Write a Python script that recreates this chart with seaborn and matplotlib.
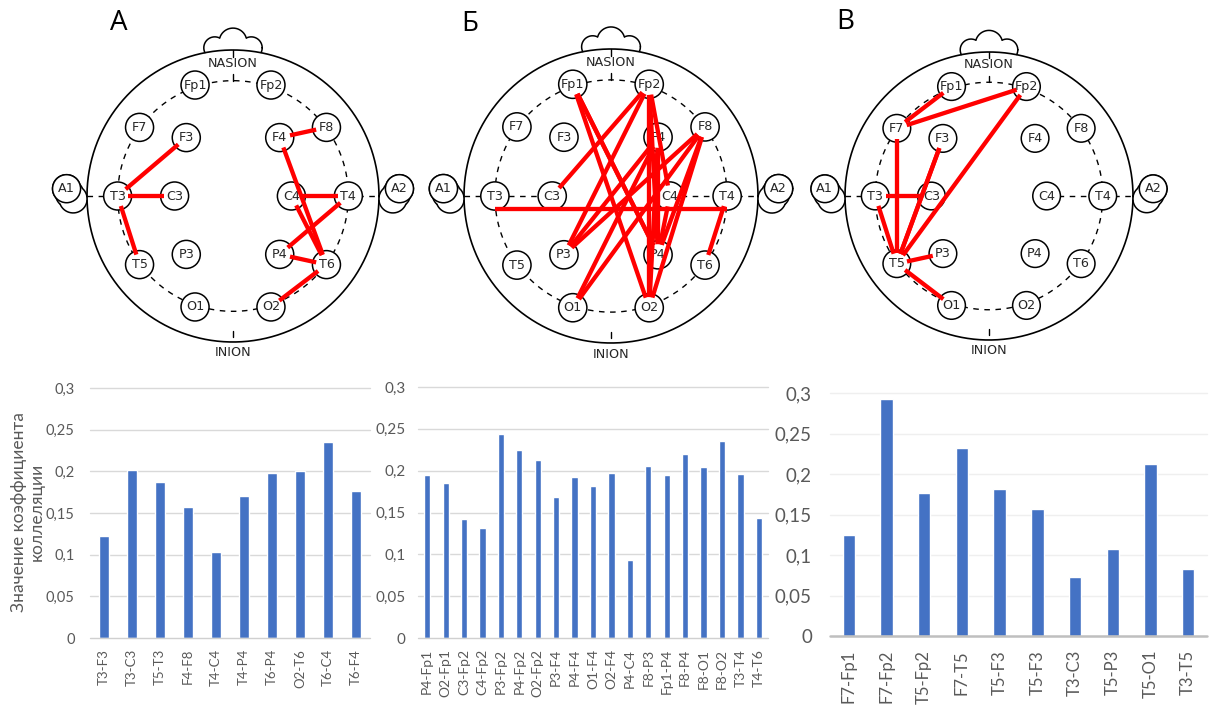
import numpy as np
import pandas as pd
import matplotlib
matplotlib.use("Agg")
import matplotlib.pyplot as plt
from matplotlib.patches import Circle
import seaborn as sns

# ---------------- data: electrode pairs and correlation values ----------------
pairs_a = ["T3-F3", "T3-C3", "T5-T3", "F4-F8", "T4-C4", "T4-P4", "T6-P4", "O2-T6", "T6-C4", "T6-F4"]
vals_a = [0.123, 0.202, 0.187, 0.157, 0.103, 0.170, 0.198, 0.201, 0.235, 0.177]

pairs_b = ["P4-Fp1", "O2-Fp1", "C3-Fp2", "C4-Fp2", "P3-Fp2", "P4-Fp2", "O2-Fp2", "P3-F4",
           "P4-F4", "O1-F4", "O2-F4", "P4-C4", "F8-P3", "Fp1-P4", "F8-P4", "F8-O1", "F8-O2",
           "T3-T4", "T4-T6"]
vals_b = [0.195, 0.185, 0.142, 0.132, 0.244, 0.225, 0.213, 0.169, 0.193, 0.182, 0.197,
          0.093, 0.205, 0.195, 0.220, 0.204, 0.235, 0.196, 0.143]

pairs_c = ["F7-Fp1", "F7-Fp2", "T5-Fp2", "F7-T5", "T5-F3", "T5-F3", "T3-C3", "T5-P3", "T5-O1", "T3-T5"]
vals_c = [0.125, 0.292, 0.177, 0.232, 0.182, 0.157, 0.073, 0.107, 0.212, 0.083]

y_ticks = [0, 0.05, 0.1, 0.15, 0.2, 0.25, 0.3]
y_tick_labels = ["0", "0,05", "0,1", "0,15", "0,2", "0,25", "0,3"]
panel_letters = ["А", "Б", "В"]
y_title = "Значение коэффициента\nколлеляции"

# 10-20 electrode layout on a unit head (x to the right, y towards the inion)
montage = {
    "Fp1": (-0.26, -0.76), "Fp2": (0.26, -0.76),
    "F7": (-0.64, -0.47), "F3": (-0.32, -0.40), "F4": (0.32, -0.40), "F8": (0.64, -0.47),
    "T3": (-0.79, 0.0), "C3": (-0.40, 0.0), "C4": (0.40, 0.0), "T4": (0.79, 0.0),
    "T5": (-0.64, 0.47), "P3": (-0.32, 0.40), "P4": (0.32, 0.40), "T6": (0.64, 0.47),
    "O1": (-0.26, 0.76), "O2": (0.26, 0.76),
    "A1": (-1.14, -0.05), "A2": (1.14, -0.05),
}

# ---------------- styling ----------------
W, H = 1214, 708
BLUE = "#4472C4"
TICK_C = "#595959"
LINK_C = "#ff0000"
ELEC_R = 0.096

sns.set_theme(style="white")
plt.rcParams["font.family"] = ["Lato", "DejaVu Sans"]

fig = plt.figure(figsize=(W / 100, H / 100), dpi=100)
fig.patch.set_facecolor("white")

# canvas in pixel units for the head diagrams
canvas = fig.add_axes([0, 0, 1, 1])
canvas.set_xlim(0, W)
canvas.set_ylim(H, 0)
canvas.axis("off")


def outline(ax, centers, cx, cy, R, head_clip=True, lw=1.1):
    """Outer contour of a group of circles, kept outside the head circle."""
    for i, (u0, v0, r0) in enumerate(centers):
        t = np.linspace(0, 2 * np.pi, 500)
        u = u0 + r0 * np.cos(t)
        v = v0 + r0 * np.sin(t)
        keep = np.ones_like(t, dtype=bool)
        if head_clip:
            keep &= np.hypot(u, v) > 1.0
        for j, (u1, v1, r1) in enumerate(centers):
            if j != i:
                keep &= np.hypot(u - u1, v - v1) > r1
        u = np.where(keep, u, np.nan)
        ax.plot(cx + u * R, cy + v * R, color="black", lw=lw, zorder=2)


def draw_head(ax, cx, cy, R, links, shifted=None):
    shifted = shifted or {}
    t = np.linspace(0, 2 * np.pi, 600)
    ax.plot(cx + R * np.cos(t), cy + R * np.sin(t), color="black", lw=1.2, zorder=2)
    ax.plot(cx + 0.79 * R * np.cos(t), cy + 0.79 * R * np.sin(t), color="black",
            lw=1.0, ls=(0, (4, 4)), zorder=1)
    # midline ticks and the dashed coronal segments
    ax.plot([cx, cx], [cy - R, cy - 0.955 * R], color="black", lw=1.0, zorder=2)
    ax.plot([cx, cx], [cy - 0.835 * R, cy - 0.79 * R], color="black", lw=1.0, zorder=2)
    ax.plot([cx, cx], [cy + 0.925 * R, cy + 0.965 * R], color="black", lw=1.0, zorder=2)
    for a, b in [(-1.0, -0.40), (0.40, 1.0)]:
        ax.plot([cx + a * R, cx + b * R], [cy, cy], color="black", lw=1.0,
                ls=(0, (4, 4)), zorder=1)
    # nose
    outline(ax, [(-0.125, -1.015, 0.075), (0.0, -1.055, 0.095), (0.125, -1.015, 0.075)],
            cx, cy, R)
    # ears behind the reference electrodes
    for s in (-1, 1):
        outline(ax, [(s * 1.14, -0.05, ELEC_R), (s * 1.12, -0.015, ELEC_R),
                     (s * 1.095, 0.02, ELEC_R)], cx, cy, R)
    ax.text(cx, cy - 0.91 * R, "NASION", ha="center", va="center", fontsize=9.2,
            family="DejaVu Sans", zorder=4)
    ax.text(cx, cy + 1.075 * R, "INION", ha="center", va="center", fontsize=9.2,
            family="DejaVu Sans", zorder=4)
    # electrodes
    for name, (u, v) in montage.items():
        ax.add_patch(Circle((cx + u * R, cy + v * R), ELEC_R * R, facecolor="white",
                            edgecolor="black", lw=1.1, zorder=3))
        ax.text(cx + u * R, cy + v * R, name, ha="center", va="center", fontsize=9.2,
                family="DejaVu Sans", zorder=4)
    # connections
    for pair in links:
        e1, e2 = pair.split("-")
        p1 = np.array(montage[e1], dtype=float)
        p2 = np.array(montage[e2], dtype=float)
        if pair in shifted:
            off = np.array(shifted[pair])
            p1 = p1 + off
            p2 = p2 + off
        else:
            d = (p2 - p1) / np.hypot(*(p2 - p1))
            p1 = p1 + d * ELEC_R * 0.75
            p2 = p2 - d * ELEC_R * 0.75
        ax.plot([cx + p1[0] * R, cx + p2[0] * R], [cy + p1[1] * R, cy + p2[1] * R],
                color=LINK_C, lw=3.1, solid_capstyle="butt", zorder=5)


heads = [
    (233, 196, 146, pairs_a, None),
    (611, 196, 147, pairs_b, {"T3-T4": (0.0, 0.09)}),
    (989, 196, 144, pairs_c, None),
]
for cx, cy, R, links, shifted in heads:
    draw_head(canvas, cx, cy, R, links, shifted)

for letter, (lx, ly) in zip(panel_letters, [(119, 23), (470, 24), (845, 22)]):
    canvas.text(lx, ly, letter, ha="center", va="center", fontsize=20, color="black",
                family=["Open Sans", "DejaVu Sans"])


# ---------------- bar charts ----------------
def bar_panel(box, pairs, vals, xfs, yfs, ypad, xpad, grid_c, base_c, base_lw, bw):
    x0, y0, x1, y1 = box
    ax = fig.add_axes([x0 / W, 1 - y1 / H, (x1 - x0) / W, (y1 - y0) / H])
    df = pd.DataFrame({"pos": np.arange(len(vals)), "r": vals})
    sns.barplot(data=df, x="pos", y="r", color=BLUE, saturation=1, width=bw,
                ax=ax, zorder=3)
    ax.set_xlim(-0.5, len(vals) - 0.5)
    ax.set_ylim(0, 0.3)
    ax.set_yticks(y_ticks)
    ax.set_yticklabels(y_tick_labels)
    ax.set_xticks(np.arange(len(pairs)))
    ax.set_xticklabels(pairs, rotation=90)
    ax.set_xlabel("")
    ax.set_ylabel("")
    ax.patch.set_alpha(0)
    for g in y_ticks[1:]:
        ax.axhline(g, color=grid_c, lw=1.0, zorder=1, clip_on=False)
    ax.axhline(0, color=base_c, lw=base_lw, zorder=4, clip_on=False)
    for s in ax.spines.values():
        s.set_visible(False)
    ax.tick_params(axis="y", length=0, pad=ypad, labelsize=yfs, colors=TICK_C)
    ax.tick_params(axis="x", length=0, pad=xpad, labelsize=xfs, colors=TICK_C)
    return ax


ax_a = bar_panel((90, 388, 370, 638), pairs_a, vals_a, 9.5, 10.5, 11, 8,
                 "#d9d9d9", "#d0d0d0", 1.0, 0.34)
ax_b = bar_panel((418, 387, 768, 638), pairs_b, vals_b, 10, 11, 9, 8,
                 "#d9d9d9", "#d0d0d0", 1.0, 0.34)
ax_c = bar_panel((830, 393, 1207, 636), pairs_c, vals_c, 12, 13.5, 13, 10,
                 "#efefef", "#bfbfbf", 1.8, 0.33)

fig.text(28 / W, 1 - 512 / H, y_title, rotation=90, ha="center", va="center",
         fontsize=12.5, color=TICK_C, multialignment="center", linespacing=1.1)

fig.savefig("out.png", dpi=100, facecolor="white")
